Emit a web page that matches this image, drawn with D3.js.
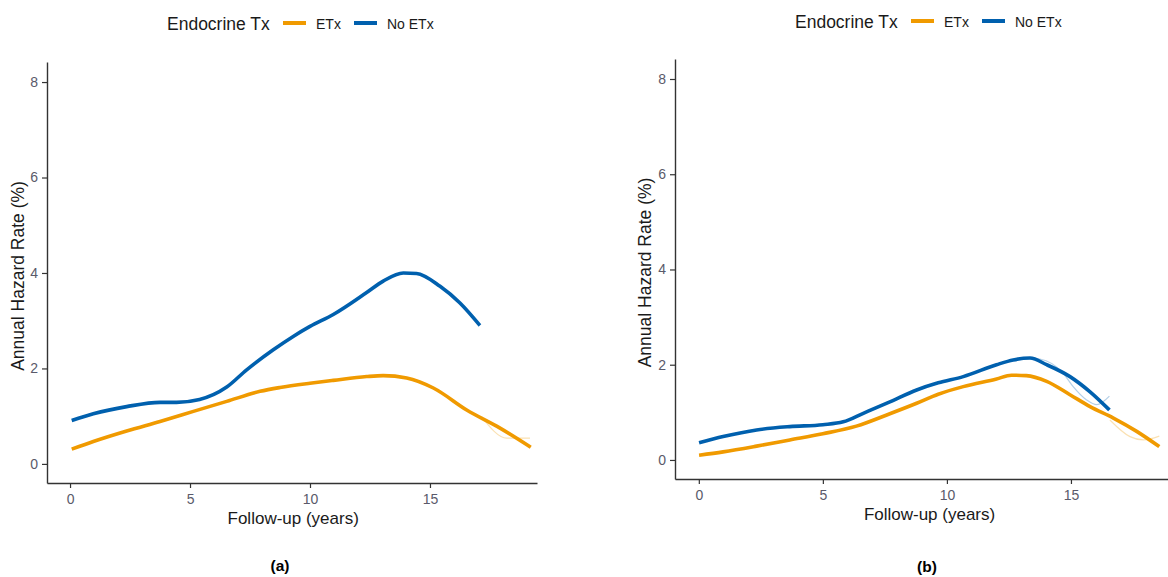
<!DOCTYPE html>
<html>
<head>
<meta charset="utf-8">
<script src="https://cdn.jsdelivr.net/npm/d3@7"></script>
<style>
  body { margin: 0; background: #fff; }
  text { font-family: "Liberation Sans", Arial, sans-serif; }
</style>
</head>
<body>
<div class="visualization"></div>
<script>
// tick values shared by both panels
const xTicks = [0, 5, 10, 15];
const yTicks = [0, 2, 4, 6, 8];
const groups = ["ETx", "No ETx"];
const colors = ["#F09A00", "#0060AE"];

// panel (a): [follow-up years, annual hazard rate %]
const aETx = [[0.07, 0.31], [0.97, 0.47], [2.36, 0.69], [3.75, 0.89], [5.14, 1.1], [6.53, 1.31],
  [7.92, 1.52], [8.75, 1.6], [10.0, 1.69], [10.97, 1.75], [12.36, 1.83], [13.05, 1.85],
  [14.03, 1.8], [15.14, 1.59], [16.53, 1.13], [17.92, 0.75], [19.2, 0.35]];
const aNoETx = [[0.07, 0.91], [0.97, 1.05], [2.36, 1.2], [3.75, 1.29], [4.44, 1.29], [5.4, 1.35],
  [6.53, 1.61], [7.36, 1.97], [8.47, 2.39], [9.3, 2.67], [10.0, 2.88], [10.97, 3.13],
  [12.36, 3.59], [13.05, 3.83], [13.89, 4.0], [14.44, 3.99], [15.42, 3.72], [16.25, 3.37], [17.08, 2.9]];
const aETxRaw = [[17.15, 0.99], [18.2, 0.54], [19.17, 0.54]];

// panel (b)
const bETx = [[0.01, 0.1], [0.98, 0.17], [2.33, 0.29], [3.67, 0.42], [5.0, 0.55], [6.35, 0.71],
  [7.7, 0.97], [8.78, 1.19], [9.65, 1.38], [10.66, 1.54], [12.0, 1.7], [12.6, 1.78], [13.2, 1.77],
  [14.02, 1.65], [14.96, 1.37], [15.77, 1.12], [16.71, 0.88], [17.65, 0.6], [18.56, 0.28]];
const bNoETx = [[0.01, 0.36], [0.98, 0.49], [2.33, 0.63], [3.67, 0.7], [5.0, 0.74], [5.82, 0.8],
  [6.63, 0.98], [7.7, 1.22], [8.78, 1.47], [9.65, 1.62], [10.66, 1.75], [12.0, 2.0], [12.67, 2.1],
  [13.35, 2.14], [14.02, 2.0], [14.96, 1.75], [15.77, 1.43], [16.55, 1.05]];
const bETxRaw = [[16.57, 0.84], [17.38, 0.49], [17.92, 0.42], [18.56, 0.5]];
const bNoETxRaw = [[13.3, 2.14], [13.75, 2.12], [14.69, 1.82], [15.09, 1.54], [15.63, 1.26],
  [16.04, 1.16], [16.55, 1.34]];

const width = 1168;
const height = 577;

var svg = d3.select(".visualization").
append("svg").
attr("width", width).
attr("height", height);

svg.append("rect").attr("width", width).attr("height", height).attr("fill", "#fff");

var panels = [
  { label: "(a)", series: [aETx, aNoETx], raw: [[aETxRaw, 0]],
    x0: 47, x1: 537, y0: 483, y1: 62, ytitleX: 24, legendX: 167, legendY: 30, labelX: 280, labelY: 571 },
  { label: "(b)", series: [bETx, bNoETx], raw: [[bETxRaw, 0], [bNoETxRaw, 1]],
    x0: 675, x1: 1181.6, y0: 479, y1: 59, ytitleX: 651, legendX: 795, legendY: 28, labelX: 927, labelY: 572 }
];

panels.forEach(function (p) {
  var x = d3.scaleLinear().domain([-0.96, 19.46]).range([p.x0, p.x1]);
  var y = d3.scaleLinear().domain([-0.4, 8.42]).range([p.y0, p.y1]);

  var line = d3.line().
  x(d => x(d[0])).
  y(d => y(d[1])).
  curve(d3.curveMonotoneX);

  var g = svg.append("g");

  // faint raw-estimate traces underneath
  p.raw.forEach(function (r) {
    g.append("path").
    attr("d", line(r[0])).
    attr("fill", "none").
    attr("stroke", colors[r[1]]).
    attr("stroke-width", 1.2).
    attr("stroke-opacity", 0.3);
  });

  p.series.forEach(function (s, i) {
    g.append("path").
    attr("d", line(s)).
    attr("fill", "none").
    attr("stroke", colors[i]).
    attr("stroke-width", 3.6).
    attr("stroke-linejoin", "round");
  });

  var xaxis = g.append("g").
  attr("transform", "translate(0," + p.y0 + ")").
  call(d3.axisBottom(x).tickValues(xTicks).tickSize(5).tickSizeOuter(0).tickPadding(6));

  var yaxis = g.append("g").
  attr("transform", "translate(" + p.x0 + ",0)").
  call(d3.axisLeft(y).tickValues(yTicks).tickSize(5).tickSizeOuter(0).tickPadding(4));

  [xaxis, yaxis].forEach(function (a) {
    a.select(".domain").attr("stroke", "#333").attr("stroke-width", 1.4);
    a.selectAll(".tick line").attr("stroke", "#333").attr("stroke-width", 1.2);
    a.selectAll(".tick text").
    attr("fill", "#5a5a6a").
    style("font-size", "14px").
    style("font-family", "'Liberation Sans', Arial, sans-serif");
  });

  var xmid = (x(0) + x(18.6)) / 2;

  g.append("text").
  attr("x", xmid).
  attr("y", p.y0 + 41).
  attr("text-anchor", "middle").
  attr("fill", "#1a1a1a").
  style("font-size", "17px").
  text("Follow-up (years)");

  g.append("text").
  attr("transform", "translate(" + p.ytitleX + "," + ((y(0) + y(8)) / 2 + 3) + ") rotate(-90)").
  attr("text-anchor", "middle").
  attr("fill", "#1a1a1a").
  style("font-size", "17.5px").
  text("Annual Hazard Rate (%)");

  g.append("text").
  attr("x", p.labelX).
  attr("y", p.labelY).
  attr("text-anchor", "middle").
  attr("fill", "#000").
  style("font-size", "15.5px").
  style("font-weight", "bold").
  text(p.label);

  // legend
  var lg = g.append("g").attr("transform", "translate(" + p.legendX + "," + p.legendY + ")");
  lg.append("text").
  attr("x", 0).
  attr("y", 0).
  attr("fill", "#1a1a1a").
  style("font-size", "17.5px").
  text("Endocrine Tx");

  var keyX = [116, 187];
  groups.forEach(function (name, i) {
    lg.append("line").
    attr("x1", keyX[i]).
    attr("x2", keyX[i] + 23).
    attr("y1", -7).
    attr("y2", -7).
    attr("stroke", colors[i]).
    attr("stroke-width", 4);
    lg.append("text").
    attr("x", keyX[i] + 33).
    attr("y", -1).
    attr("fill", "#1a1a1a").
    style("font-size", "14px").
    text(name);
  });
});
</script>
</body>
</html>
